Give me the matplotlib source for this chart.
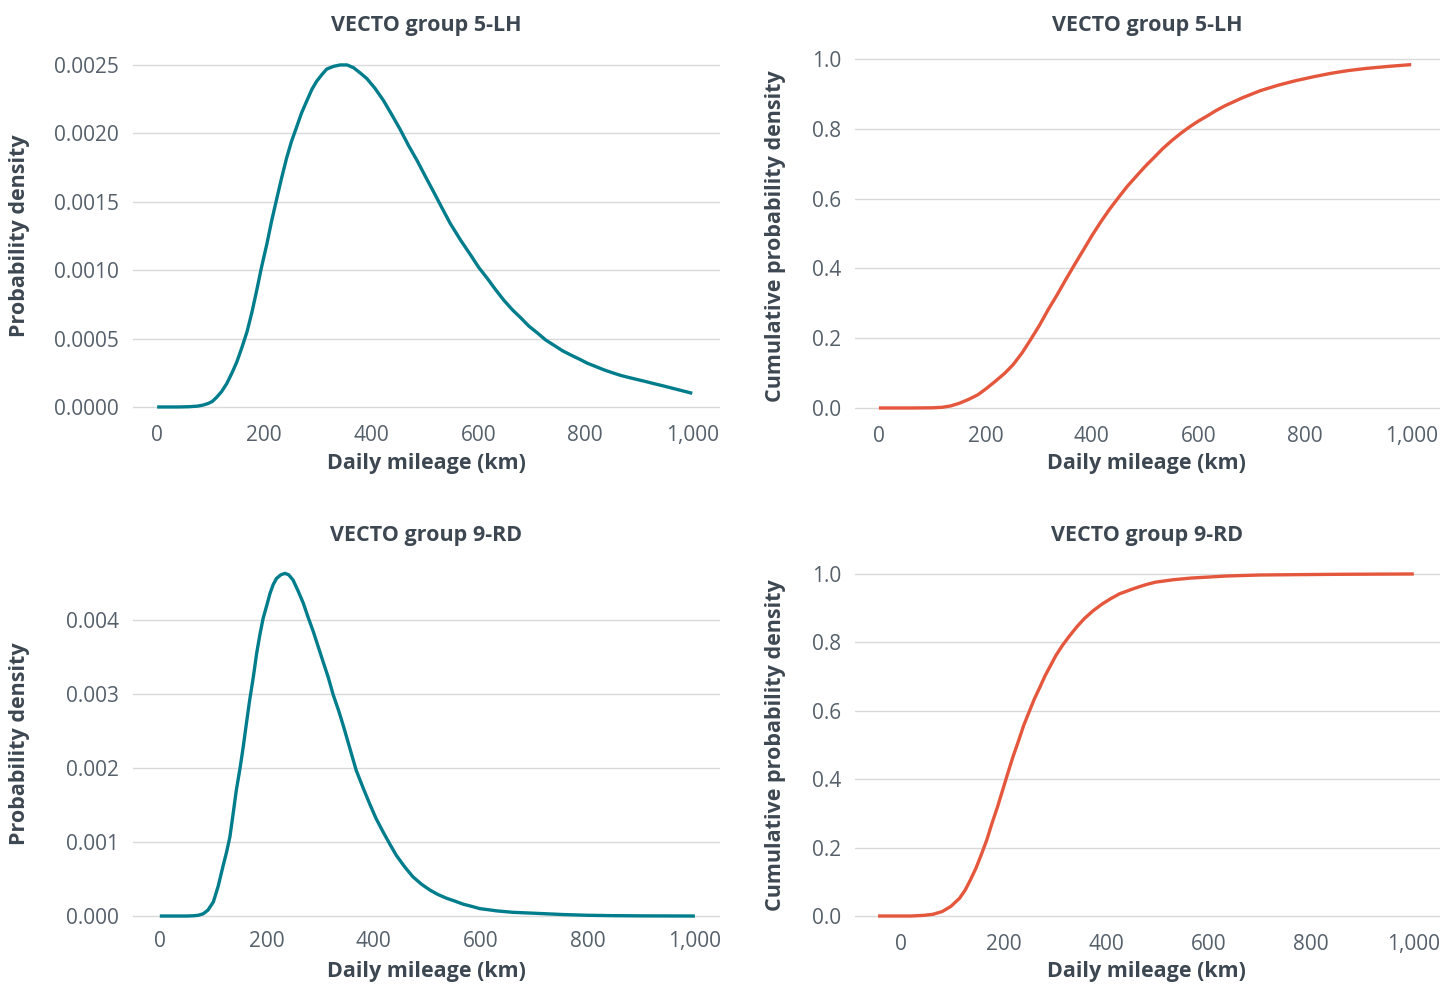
import matplotlib
matplotlib.use('Agg')
import matplotlib.pyplot as plt
from matplotlib.ticker import FuncFormatter

# VECTO group 5-LH, probability density
km_5lh = [0, 40, 60, 75, 85, 95, 103, 111, 120, 130, 140, 149, 158, 168, 177, 186,
          195, 205, 214, 224, 233, 242, 251, 261, 270, 280, 289, 298, 308, 317, 330,
          342, 355, 367, 380, 392, 407, 423, 438, 454, 470, 486, 502, 517, 533, 548,
          567, 586, 601, 617, 632, 648, 664, 680, 695, 711, 726, 742, 758, 773, 789,
          804, 820, 836, 851, 867, 882, 898, 914, 929, 945, 960, 980, 1000]
pdf_5lh = [0, 0, 0.000002, 0.000006, 0.000013, 0.000025, 0.00004, 0.00007, 0.00011,
           0.00017, 0.00025, 0.00033, 0.00043, 0.00055, 0.00069, 0.00085, 0.00102,
           0.00119, 0.00136, 0.00153, 0.00168, 0.00182, 0.00194, 0.00205, 0.00215,
           0.00224, 0.00232, 0.00238, 0.00243, 0.00247, 0.00249, 0.0025, 0.0025,
           0.00248, 0.00244, 0.0024, 0.00233, 0.00224, 0.00214, 0.00203, 0.00191,
           0.0018, 0.00168, 0.00157, 0.00145, 0.00134, 0.00122, 0.00111, 0.00102,
           0.00094, 0.00086, 0.00078, 0.00071, 0.00065, 0.00059, 0.00054, 0.00049,
           0.00045, 0.00041, 0.00038, 0.00035, 0.00032, 0.000295, 0.00027, 0.00025,
           0.00023, 0.000215, 0.0002, 0.000185, 0.00017, 0.000155, 0.00014, 0.00012,
           0.0001]

# VECTO group 9-RD, probability density
km_9rd = [0, 50, 62, 72, 81, 90, 100, 109, 118, 125, 131, 137, 143, 150, 156, 162,
          168, 175, 181, 187, 193, 200, 206, 212, 218, 226, 234, 241, 249, 258, 268,
          277, 287, 296, 305, 315, 324, 334, 343, 355, 367, 380, 392, 404, 417, 430,
          442, 457, 473, 489, 505, 520, 536, 552, 567, 583, 598, 614, 629, 660, 692,
          723, 754, 800, 847, 900, 1000]
pdf_9rd = [0, 0, 0.000003, 0.00001, 0.00003, 0.00008, 0.00019, 0.0004, 0.00067,
           0.00087, 0.00107, 0.00138, 0.0017, 0.002, 0.00229, 0.00261, 0.00292,
           0.00324, 0.00355, 0.0038, 0.00402, 0.0042, 0.00436, 0.00448, 0.00456,
           0.00461, 0.00463, 0.00461, 0.00454, 0.0044, 0.00423, 0.00404, 0.00384,
           0.00364, 0.00344, 0.00322, 0.00299, 0.00278, 0.00257, 0.00227, 0.00197,
           0.00173, 0.00152, 0.00132, 0.00114, 0.00097, 0.00082, 0.00067, 0.00053,
           0.00043, 0.00035, 0.00029, 0.00024, 0.0002, 0.00016, 0.00013, 0.0001,
           0.000085, 0.00007, 0.00005, 0.00004, 0.00003, 0.00002, 0.00001, 0.000005,
           0.000002, 0]

# VECTO group 5-LH, cumulative
km_5lh_c = [0, 60, 100, 119, 135, 152, 169, 186, 202, 219, 236, 252, 269, 285, 302,
            318, 335, 351, 368, 385, 401, 418, 434, 451, 467, 484, 500, 517, 533, 550,
            567, 584, 600, 617, 633, 650, 683, 716, 750, 783, 816, 849, 882, 915, 958,
            1000]
cdf_5lh = [0, 0, 0.0005, 0.002, 0.006, 0.014, 0.025, 0.038, 0.056, 0.077, 0.099,
           0.124, 0.158, 0.196, 0.238, 0.282, 0.325, 0.368, 0.412, 0.455, 0.496,
           0.536, 0.571, 0.605, 0.636, 0.665, 0.692, 0.718, 0.743, 0.766, 0.787,
           0.806, 0.822, 0.837, 0.852, 0.866, 0.889, 0.909, 0.925, 0.938, 0.949,
           0.959, 0.967, 0.973, 0.979, 0.984]

# VECTO group 9-RD, cumulative
km_9rd_c = [-45, 20, 45, 62, 80, 97, 114, 125, 135, 146, 156, 167, 177, 188, 198, 208,
            218, 229, 239, 250, 260, 271, 281, 292, 302, 315, 329, 343, 357, 374, 392,
            409, 426, 444, 461, 478, 496, 530, 565, 600, 634, 700, 773, 850, 1000]
cdf_9rd = [0, 0, 0.002, 0.005, 0.013, 0.028, 0.052, 0.076, 0.105, 0.14, 0.178, 0.222,
           0.27, 0.319, 0.368, 0.417, 0.465, 0.512, 0.557, 0.598, 0.635, 0.67, 0.703,
           0.734, 0.762, 0.792, 0.82, 0.846, 0.869, 0.892, 0.912, 0.928, 0.942,
           0.952, 0.961, 0.969, 0.976, 0.983, 0.988, 0.991, 0.994, 0.997, 0.998,
           0.999, 1.0]

x_ticks = [0, 200, 400, 600, 800, 1000]

teal = '#007D8C'
orange = '#E4573D'
dark = '#3D4751'
tick_col = '#56606B'
grid_col = '#D9D9D9'

plt.rcParams['font.family'] = ['Open Sans', 'DejaVu Sans']

W, H = 1443, 984
fig = plt.figure(figsize=(W / 100, H / 100), dpi=100)

# [left, bottom, width, height], xlim, ylim, yticks, ytick format
panels = [
    ([0.0922, 0.5725, 0.4068, 0.3754], (-45, 1052), (-0.0001, 0.0026),
     [0, 0.0005, 0.001, 0.0015, 0.002, 0.0025], '{:.4f}'),
    ([0.5925, 0.5712, 0.4054, 0.3830], (-45, 1054), (-0.04, 1.04),
     [0, 0.2, 0.4, 0.6, 0.8, 1.0], '{:.1f}'),
    ([0.0922, 0.0578, 0.4068, 0.3723], (-50, 1047), (-0.00015, 0.0048),
     [0, 0.001, 0.002, 0.003, 0.004], '{:.3f}'),
    ([0.5925, 0.0552, 0.4054, 0.3754], (-90, 1051), (-0.04, 1.04),
     [0, 0.2, 0.4, 0.6, 0.8, 1.0], '{:.1f}'),
]
series = [(km_5lh, pdf_5lh, teal), (km_5lh_c, cdf_5lh, orange),
          (km_9rd, pdf_9rd, teal), (km_9rd_c, cdf_9rd, orange)]
titles = ['VECTO group 5-LH', 'VECTO group 5-LH', 'VECTO group 9-RD', 'VECTO group 9-RD']
ylabels = ['Probability density', 'Cumulative probability density',
           'Probability density', 'Cumulative probability density']
# pixel positions of title / x label / y label centres
title_xy = [(426, 25), (1147, 25), (426, 535), (1147, 535)]
xlab_xy = [(426, 464), (1146, 464), (426, 972), (1146, 972)]
ylab_xy = [(20, 236), (776, 236), (20, 744), (776, 745)]

for i, ((rect, xl, yl, yt, fmt), (xs, ys, col)) in enumerate(zip(panels, series)):
    ax = fig.add_axes(rect)
    ax.plot(xs, ys, color=col, lw=2.4, solid_capstyle='butt', zorder=3)
    ax.set_xlim(xl)
    ax.set_ylim(yl)
    ax.set_xticks(x_ticks)
    ax.xaxis.set_major_formatter(FuncFormatter(lambda v, p: f'{v:,.0f}'))
    ax.set_yticks(yt)
    ax.yaxis.set_major_formatter(FuncFormatter(lambda v, p, f=fmt: f.format(v)))
    for s in ax.spines.values():
        s.set_visible(False)
    ax.grid(True, axis='y', color=grid_col, lw=1.0)
    ax.set_axisbelow(True)
    ax.tick_params(length=0, labelsize=15, labelcolor=tick_col)
    ax.tick_params(axis='x', pad=3)
    ax.tick_params(axis='y', pad=10)

    tx, ty = title_xy[i]
    fig.text(tx / W, 1 - ty / H, titles[i], ha='center', va='center',
             fontsize=15.5, fontweight='bold', color=dark)
    lx, ly = xlab_xy[i]
    fig.text(lx / W, 1 - ly / H, 'Daily mileage (km)', ha='center', va='center',
             fontsize=15.5, fontweight='bold', color=dark)
    yx, yy = ylab_xy[i]
    fig.text(yx / W, 1 - yy / H, ylabels[i], ha='center', va='center', rotation=90,
             fontsize=15.5, fontweight='bold', color=dark)

fig.savefig('out.png', dpi=100, facecolor='white')
